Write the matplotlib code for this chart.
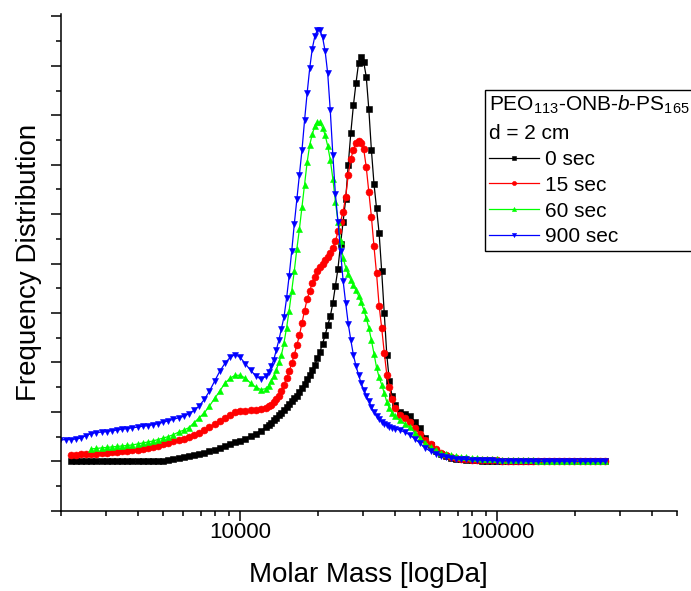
import numpy as np
import matplotlib.pyplot as plt
from matplotlib.ticker import FixedLocator, FuncFormatter, MultipleLocator, NullFormatter

plt.rcParams['font.family'] = ['Liberation Sans', 'DejaVu Sans']
plt.rcParams['mathtext.fontset'] = 'custom'
plt.rcParams['mathtext.rm'] = 'Liberation Sans'
plt.rcParams['mathtext.it'] = 'Liberation Sans:italic'

# sampling grid in log10(M): 0.02 steps in the tails, 0.01 steps around the peaks
log_mass = np.round(np.concatenate([np.arange(3.30, 4.101, 0.02),
                                    np.arange(4.11, 4.601, 0.01),
                                    np.arange(4.62, 5.421, 0.02)]), 2)

# frequency distribution (arbitrary units, baseline = 0)
# each curve ends at the last grid point; shorter curves start later
sec_0 = [0.00] * 18 + [
    0.01, 0.02, 0.04, 0.06, 0.08, 0.10, 0.12, 0.14, 0.17, 0.20,
    0.23, 0.26, 0.30, 0.34, 0.38, 0.42, 0.46, 0.51, 0.56, 0.62,
    0.69,
    0.73, 0.78, 0.83, 0.88, 0.93, 0.98, 1.03, 1.09, 1.15, 1.21,
    1.27, 1.33, 1.40, 1.48, 1.57, 1.66, 1.75, 1.84, 1.95, 2.08,
    2.22, 2.38, 2.55, 2.75, 2.93, 3.20, 3.55, 3.90, 4.40, 4.85,
    5.30, 6.00, 6.65, 7.20, 7.65, 8.05, 8.18, 8.08, 7.78, 7.12,
    6.30, 5.62, 5.12, 4.62, 3.85, 3.00, 2.15, 1.62, 1.33, 1.14,
    1.00, 0.96, 0.91, 0.80, 0.67, 0.47, 0.33, 0.21, 0.14, 0.10,
    0.07, 0.05, 0.04, 0.03, 0.02, 0.02, 0.01, 0.01, 0.01, 0.01] + [0.00] * 21

sec_15 = [
    0.13, 0.13, 0.14, 0.14, 0.15, 0.15, 0.16, 0.17,
    0.18, 0.19, 0.20, 0.21, 0.22, 0.23, 0.25, 0.27, 0.29, 0.31,
    0.34, 0.37, 0.40, 0.43, 0.46, 0.50, 0.54, 0.58, 0.63, 0.69,
    0.75, 0.82, 0.88, 0.94, 0.99, 1.01, 1.02, 1.03, 1.03, 1.05,
    1.08,
    1.11, 1.14, 1.19, 1.25, 1.33, 1.42, 1.55, 1.68, 1.82, 1.98,
    2.15, 2.35, 2.55, 2.80, 3.05, 3.28, 3.45, 3.60, 3.73, 3.84,
    3.93, 4.00, 4.07, 4.14, 4.22, 4.32, 4.45, 4.65, 4.85, 5.05,
    5.35, 5.80, 6.12, 6.30, 6.44, 6.48, 6.44, 6.32, 5.95, 5.45,
    4.95, 4.35, 3.80, 3.15, 2.70, 2.20, 1.75, 1.50, 1.25, 1.08,
    0.93, 0.87, 0.80, 0.68, 0.56, 0.44, 0.34, 0.25, 0.17, 0.12,
    0.09, 0.07, 0.05, 0.04, 0.03, 0.03, 0.02, 0.02, 0.02, 0.02] + [0.01] * 21

sec_60 = [
    0.25, 0.26, 0.27, 0.28, 0.29, 0.30, 0.31, 0.32, 0.33,
    0.35, 0.37, 0.39, 0.41, 0.44, 0.47, 0.50, 0.54, 0.59, 0.63,
    0.68, 0.78, 0.88, 0.98, 1.12, 1.27, 1.42, 1.58, 1.68, 1.74,
    1.74, 1.68, 1.58, 1.50, 1.45, 1.47,
    1.53, 1.62, 1.72, 1.85, 2.00, 2.15, 2.40, 2.70, 3.05, 3.45,
    3.85, 4.30, 4.70, 5.15, 5.60, 6.05, 6.40, 6.62, 6.78, 6.86,
    6.86, 6.75, 6.60, 6.38, 6.10, 5.72, 5.25, 4.85, 4.45, 4.12,
    3.92, 3.78, 3.67, 3.56, 3.46, 3.35, 3.22, 3.07, 2.90, 2.70,
    2.45, 2.18, 1.90, 1.70, 1.55, 1.38, 1.20, 1.07, 0.98, 0.92,
    0.83, 0.76, 0.69, 0.58, 0.47, 0.37, 0.29, 0.22, 0.17, 0.14,
    0.12, 0.10, 0.09, 0.08, 0.07, 0.06, 0.05, 0.05, 0.04, 0.04,
    0.03, 0.03, 0.02, 0.02, 0.02, 0.02, 0.02, 0.01, 0.01, 0.01] + [0.00] * 11

sec_900 = [
    0.43, 0.44, 0.44, 0.45, 0.47, 0.52, 0.56, 0.58, 0.59, 0.60,
    0.62, 0.63, 0.65, 0.66, 0.68, 0.69, 0.71, 0.72, 0.74, 0.76,
    0.79, 0.82, 0.85, 0.88, 0.91, 0.96, 1.03, 1.12, 1.25, 1.42,
    1.62, 1.82, 1.98, 2.10, 2.16, 2.10, 1.97, 1.84, 1.73, 1.66,
    1.72,
    1.80, 1.92, 2.05, 2.25, 2.45, 2.68, 2.92, 3.30, 3.75, 4.25,
    4.80, 5.30, 5.80, 6.30, 6.90, 7.45, 7.95, 8.35, 8.60, 8.73,
    8.72, 8.58, 8.30, 7.85, 7.10, 6.20, 5.40, 4.85, 4.25, 3.65,
    3.20, 2.78, 2.45, 2.15, 1.93, 1.75, 1.58, 1.45, 1.33, 1.22,
    1.10, 0.99, 0.92, 0.86, 0.80, 0.76, 0.73, 0.70, 0.68, 0.66,
    0.63, 0.59, 0.53, 0.45, 0.36, 0.27, 0.20, 0.15, 0.11, 0.09,
    0.07, 0.05, 0.04, 0.04, 0.03, 0.03, 0.02, 0.02, 0.02, 0.01,
    0.01, 0.01, 0.01, 0.01, 0.01] + [0.00] * 16

labels = ['0 sec', '15 sec', '60 sec', '900 sec']
series = [sec_0, sec_15, sec_60, sec_900]
colors = ['#000000', '#ff0000', '#00ff00', '#0000ff']
markers = ['s', 'o', '^', 'v']

fig = plt.figure(figsize=(6.91, 5.91), dpi=100)
ax = fig.add_axes([0.0878, 0.1359, 0.8919, 0.8404])

for y, lab, c, m in zip(series, labels, colors, markers):
    x = 10 ** log_mass[-len(y):]
    ax.plot(x, y, color=c, lw=0.9, marker=m, ms=5.0, mew=0.4, mec=c, mfc=c, label=lab)

ax.set_xscale('log')
ax.set_xlim(2000, 500000)
ax.set_ylim(-1, 9.05)

ax.xaxis.set_major_locator(FixedLocator([10000, 100000]))
ax.xaxis.set_major_formatter(FuncFormatter(lambda v, p: f'{v:.0f}'))
ax.xaxis.set_minor_formatter(NullFormatter())
ax.yaxis.set_major_locator(MultipleLocator(1))
ax.yaxis.set_minor_locator(MultipleLocator(0.5))
ax.yaxis.set_major_formatter(NullFormatter())

ax.tick_params(which='major', direction='out', length=7, width=1.1, labelsize=16, pad=1.5)
ax.tick_params(which='minor', direction='out', length=3.8, width=1.1)
for s in ['top', 'right']:
    ax.spines[s].set_visible(False)
for s in ['left', 'bottom']:
    ax.spines[s].set_linewidth(1.1)

ax.set_xlabel('Molar Mass [logDa]', fontsize=20, labelpad=13)
ax.set_ylabel('Frequency Distribution', fontsize=20)
ax.yaxis.set_label_coords(-0.031, 0.5)

leg = ax.legend(loc='upper right', bbox_to_anchor=(694 / 691, (591 - 90) / 591),
                bbox_transform=fig.transFigure, fontsize=15,
                title='PEO$_{113}$-ONB-$b$-PS$_{165}$\nd = 2 cm', title_fontsize=15,
                alignment='left', fancybox=False, framealpha=1, edgecolor='black',
                handlelength=2.4, handletextpad=0.3, borderpad=0.2, labelspacing=0.33,
                borderaxespad=0, markerscale=0.6)
leg.get_frame().set_linewidth(1.0)
leg.get_title().set_linespacing(1.5)

fig.savefig('out.png', dpi=100)
